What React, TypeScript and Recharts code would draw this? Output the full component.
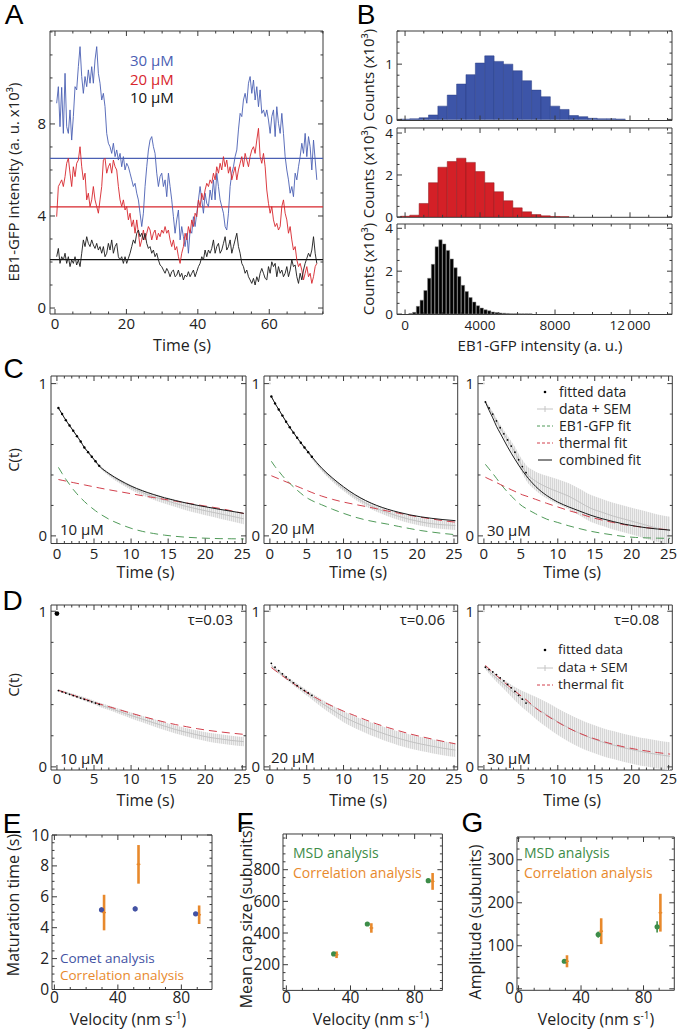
import React from 'react';
import { ComposedChart, Line, Bar, Area, Scatter, XAxis, YAxis, ReferenceLine, ReferenceArea, ErrorBar } from 'recharts';

const FONT = '"Open Sans", "DejaVu Sans", sans-serif';
const LETTER_FONT = '"Liberation Sans", Arial, sans-serif';
const AXIS = '#3a3a3a';
const TXT = '#222';

// ---------- Panel A: intensity traces ----------
const A_T_START = 0.47;
const A_DT = 0.467;
const A_BLUE_30 = [
  8.90, 9.62, 7.88, 9.59, 7.59, 10.20, 7.88, 7.59, 8.61, 7.30,
  8.32, 9.62, 9.48, 10.49, 11.36, 10.06, 9.33, 10.06, 9.62, 10.35,
  9.77, 10.49, 9.77, 10.78, 11.36, 10.20, 9.77, 9.04, 9.33, 8.75,
  7.59, 7.16, 7.01, 6.72, 7.16, 6.58, 6.87, 6.43, 6.72, 6.14,
  6.58, 6.00, 6.29, 6.14, 5.86, 5.57, 5.28, 5.42, 4.99, 4.70,
  4.12, 3.54, 4.12, 5.28, 6.14, 6.87, 7.30, 7.45, 7.01, 6.72,
  5.86, 5.28, 5.71, 5.86, 5.28, 5.57, 4.84, 5.86, 5.28, 4.70,
  3.97, 3.25, 3.83, 4.26, 2.96, 3.54, 3.10, 2.67, 3.25, 2.38,
  3.39, 3.25, 3.97, 3.54, 4.12, 4.70, 5.28, 4.70, 4.12, 4.99,
  4.55, 4.41, 5.13, 4.70, 5.57, 4.70, 5.86, 5.28, 4.70, 4.41,
  4.12, 3.54, 3.39, 4.12, 5.28, 5.86, 6.14, 6.58, 6.87, 7.74,
  8.46, 8.32, 9.04, 9.33, 8.90, 9.77, 10.06, 9.33, 9.91, 9.04,
  9.62, 8.75, 9.48, 8.46, 8.61, 8.32, 8.61, 8.17, 7.59, 8.32,
  8.61, 7.45, 8.75, 8.03, 7.59, 8.46, 7.59, 6.58, 6.00, 5.57,
  4.99, 5.28, 4.84, 5.86, 5.57, 6.14, 6.58, 7.16, 6.72, 7.59,
  6.58, 7.45, 7.01, 6.00, 7.30, 6.43, 5.57,
];
const A_RED_20 = [
  3.97, 5.28, 5.42, 5.57, 5.28, 5.71, 6.29, 6.51, 5.86, 5.28,
  6.14, 5.71, 6.29, 6.43, 7.01, 6.14, 5.57, 5.86, 4.70, 4.99,
  4.41, 4.70, 5.28, 4.70, 4.41, 4.12, 4.70, 5.28, 6.43, 6.51,
  5.86, 6.14, 6.29, 5.86, 6.43, 6.14, 6.00, 5.28, 4.70, 4.41,
  4.70, 4.26, 4.41, 3.83, 4.12, 3.54, 3.83, 3.25, 3.83, 3.25,
  2.67, 2.96, 3.39, 2.96, 3.25, 3.54, 3.39, 2.96, 3.25, 3.39,
  2.96, 3.25, 3.10, 3.39, 3.25, 3.54, 3.25, 3.39, 2.96, 2.67,
  2.96, 2.52, 2.67, 2.23, 1.94, 2.38, 2.67, 3.25, 2.96, 3.54,
  3.25, 3.83, 3.54, 4.12, 3.97, 4.70, 4.41, 4.99, 4.70, 5.13,
  5.42, 5.28, 5.57, 5.42, 5.86, 5.57, 6.14, 5.86, 6.29, 6.00,
  6.58, 6.14, 6.43, 5.86, 6.14, 5.57, 5.86, 6.14, 5.57, 6.00,
  6.29, 6.58, 6.14, 6.72, 6.43, 6.14, 6.58, 6.87, 7.01, 6.72,
  7.30, 7.81, 6.58, 6.29, 6.72, 6.14, 5.13, 4.55, 4.12, 4.41,
  3.83, 3.54, 3.68, 3.39, 3.54, 4.41, 4.70, 4.12, 3.83, 3.25,
  3.54, 2.96, 2.52, 2.67, 2.09, 1.80, 1.94, 1.65, 1.22, 1.51,
  1.80, 1.36, 1.51, 1.07, 1.36, 1.80, 1.94,
];
const A_BLACK_10 = [
  2.23, 2.59, 1.94, 2.23, 2.09, 2.38, 1.94, 2.23, 1.80, 2.09,
  1.94, 2.23, 1.87, 2.09, 1.80, 2.38, 2.96, 2.67, 3.10, 2.81,
  2.67, 2.96, 2.74, 2.59, 2.81, 2.52, 2.67, 2.38, 2.67, 2.23,
  2.38, 2.81, 2.52, 2.96, 2.38, 2.67, 2.81, 2.23, 2.09, 2.23,
  1.94, 2.23, 1.94, 2.16, 2.38, 2.67, 2.96, 2.81, 3.25, 3.39,
  3.10, 3.25, 2.96, 3.25, 2.81, 2.59, 2.67, 2.38, 2.52, 2.23,
  2.38, 2.09, 1.87, 1.80, 1.65, 1.51, 1.72, 1.58, 1.36, 1.58,
  1.65, 1.36, 1.43, 1.65, 1.36, 1.51, 1.22, 1.43, 1.36, 1.58,
  1.36, 1.51, 1.65, 1.36, 1.58, 1.80, 1.94, 2.23, 2.09, 2.52,
  2.23, 2.52, 2.38, 2.59, 2.96, 2.38, 2.67, 2.81, 2.38, 2.52,
  2.81, 3.10, 2.52, 2.67, 2.96, 2.38, 2.67, 2.96, 3.25, 2.67,
  2.38, 1.94, 1.80, 1.51, 1.65, 1.36, 1.22, 1.07, 1.29, 1.00,
  1.36, 1.14, 1.51, 1.72, 1.51, 1.29, 1.22, 1.80, 1.51, 2.01,
  1.80, 1.94, 1.36, 1.80, 1.51, 1.65, 1.36, 1.51, 1.80, 1.36,
  1.65, 2.09, 1.80, 1.87, 1.36, 1.07, 1.51, 1.22, 1.65, 1.94,
  2.16, 2.38, 2.23, 2.52, 3.10, 2.38, 1.94,
];
const A_MEANS = [6.5, 4.4, 2.1]; // 30, 20, 10 µM

// ---------- Panel B: histograms ----------
const B_BINS_500 = [0, 500, 1000, 1500, 2000, 2500, 3000, 3500, 4000, 4500, 5000, 5500, 6000, 6500, 7000, 7500, 8000, 8500, 9000, 9500, 10000, 10500, 11000, 11500];
const B_BLUE_30 = [0.003, 0.01, 0.03, 0.08, 0.24, 0.44, 0.64, 0.81, 1.02, 1.15, 1.05, 1.0, 0.88, 0.70, 0.53, 0.41, 0.24, 0.18, 0.07, 0.05, 0.02, 0.01, 0.01, 0.005];
const B_RED_20 = [0.03, 0.08, 0.64, 1.63, 2.37, 2.64, 2.8, 2.6, 2.16, 1.63, 1.2, 0.77, 0.43, 0.24, 0.11, 0.05, 0.02, 0.01];
const B_BINS_200 = [300, 500, 700, 900, 1100, 1300, 1500, 1700, 1900, 2100, 2300, 2500, 2700, 2900, 3100, 3300, 3500, 3700, 3900, 4100, 4300, 4500, 4700, 4900, 5100, 5300, 5500, 5700, 5900, 6100, 6300, 6500, 6700];
const B_BLACK_10 = [0.03, 0.08, 0.36, 0.65, 1.1, 1.67, 2.32, 3.14, 3.46, 3.27, 2.97, 2.57, 2.16, 1.75, 1.34, 1.05, 0.77, 0.56, 0.39, 0.28, 0.2, 0.15, 0.1, 0.07, 0.05, 0.04, 0.03, 0.02, 0.02, 0.01, 0.01, 0.01, 0.01];

// ---------- Panels C, D: correlation functions ----------
const CD_T = [0.2, 0.7, 1.2, 1.7, 2.2, 2.7, 3.2, 3.7, 4.2, 4.7, 5.2, 5.7, 7, 8.5, 10, 11.5, 13, 14.5, 16, 17.5, 19, 20.5, 22, 23.5, 25.2];

const C10_COMB = [0.84, 0.80, 0.76, 0.725, 0.69, 0.655, 0.62, 0.58, 0.55, 0.52, 0.49, 0.46, 0.41, 0.365, 0.327, 0.297, 0.272, 0.25, 0.232, 0.215, 0.2, 0.187, 0.174, 0.162, 0.148];
const C10_THERM = [0.37, 0.365, 0.36, 0.355, 0.35, 0.345, 0.34, 0.335, 0.33, 0.325, 0.32, 0.315, 0.303, 0.29, 0.277, 0.264, 0.252, 0.24, 0.228, 0.216, 0.204, 0.192, 0.18, 0.165, 0.147];
const C10_EB1 = [0.45, 0.41, 0.372, 0.338, 0.305, 0.276, 0.25, 0.226, 0.204, 0.184, 0.165, 0.148, 0.11, 0.077, 0.05, 0.03, 0.016, 0.005, -0.003, -0.009, -0.013, -0.016, -0.018, -0.019, -0.02];
const C10_MEAN = [0.84, 0.80, 0.76, 0.725, 0.69, 0.655, 0.62, 0.58, 0.55, 0.52, 0.49, 0.46, 0.405, 0.358, 0.318, 0.285, 0.258, 0.235, 0.213, 0.193, 0.176, 0.16, 0.145, 0.13, 0.112];
const C10_SEM = [0.004, 0.004, 0.005, 0.005, 0.006, 0.006, 0.007, 0.007, 0.008, 0.008, 0.009, 0.01, 0.012, 0.014, 0.016, 0.018, 0.02, 0.022, 0.024, 0.026, 0.028, 0.03, 0.032, 0.034, 0.035];
const C10_FIT = [0.84, 0.80, 0.76, 0.725, 0.69, 0.655, 0.62, 0.58, 0.55, 0.52, 0.49, 0.46];

const C20_COMB = [0.915, 0.87, 0.83, 0.79, 0.75, 0.713, 0.678, 0.644, 0.612, 0.58, 0.55, 0.52, 0.447, 0.38, 0.322, 0.272, 0.232, 0.2, 0.175, 0.155, 0.138, 0.125, 0.115, 0.107, 0.1];
const C20_THERM = [0.395, 0.385, 0.375, 0.365, 0.355, 0.345, 0.335, 0.325, 0.315, 0.305, 0.295, 0.285, 0.262, 0.24, 0.222, 0.207, 0.193, 0.178, 0.163, 0.149, 0.135, 0.122, 0.111, 0.1, 0.09];
const C20_EB1 = [0.49, 0.455, 0.425, 0.395, 0.368, 0.345, 0.322, 0.3, 0.28, 0.26, 0.245, 0.232, 0.205, 0.175, 0.148, 0.124, 0.105, 0.09, 0.077, 0.062, 0.048, 0.035, 0.025, 0.016, 0.008];
const C20_MEAN = [0.915, 0.87, 0.83, 0.79, 0.75, 0.713, 0.678, 0.644, 0.612, 0.58, 0.55, 0.515, 0.44, 0.37, 0.31, 0.258, 0.215, 0.18, 0.152, 0.128, 0.108, 0.092, 0.08, 0.073, 0.068];
const C20_SEM = [0.004, 0.004, 0.005, 0.005, 0.006, 0.006, 0.007, 0.007, 0.008, 0.008, 0.009, 0.01, 0.012, 0.014, 0.016, 0.018, 0.02, 0.022, 0.023, 0.024, 0.025, 0.026, 0.027, 0.028, 0.03];
const C20_FIT = [0.915, 0.87, 0.83, 0.79, 0.75, 0.713, 0.678, 0.644, 0.612, 0.58, 0.55, 0.52];

const C30_COMB = [0.88, 0.825, 0.775, 0.72, 0.675, 0.63, 0.585, 0.543, 0.503, 0.465, 0.43, 0.397, 0.325, 0.265, 0.222, 0.19, 0.162, 0.135, 0.113, 0.094, 0.077, 0.064, 0.053, 0.045, 0.038];
const C30_THERM = [0.385, 0.373, 0.362, 0.35, 0.338, 0.326, 0.315, 0.303, 0.292, 0.281, 0.27, 0.262, 0.24, 0.214, 0.19, 0.166, 0.145, 0.122, 0.104, 0.088, 0.074, 0.063, 0.054, 0.046, 0.04];
const C30_EB1 = [0.47, 0.44, 0.41, 0.378, 0.345, 0.315, 0.288, 0.262, 0.238, 0.215, 0.195, 0.18, 0.145, 0.11, 0.088, 0.066, 0.047, 0.03, 0.017, 0.006, -0.004, -0.01, -0.013, -0.015, -0.016];
const C30_MEAN = [0.88, 0.84, 0.8, 0.755, 0.71, 0.67, 0.63, 0.59, 0.55, 0.5, 0.455, 0.415, 0.36, 0.32, 0.29, 0.26, 0.22, 0.18, 0.155, 0.13, 0.11, 0.09, 0.07, 0.05, 0.035];
const C30_SEM = [0.01, 0.012, 0.015, 0.018, 0.021, 0.024, 0.028, 0.032, 0.036, 0.04, 0.045, 0.05, 0.062, 0.075, 0.082, 0.085, 0.088, 0.088, 0.088, 0.088, 0.088, 0.088, 0.09, 0.09, 0.09];
const C30_FIT = [0.88, 0.84, 0.8, 0.755, 0.71, 0.67, 0.63, 0.59, 0.55, 0.5, 0.455, 0.415];

const D10_THERM = [0.492, 0.484, 0.476, 0.468, 0.46, 0.452, 0.444, 0.436, 0.428, 0.42, 0.412, 0.405, 0.387, 0.366, 0.345, 0.325, 0.306, 0.288, 0.272, 0.258, 0.245, 0.234, 0.225, 0.217, 0.209];
const D10_MEAN = [0.492, 0.484, 0.476, 0.468, 0.46, 0.452, 0.444, 0.436, 0.428, 0.42, 0.41, 0.4, 0.38, 0.355, 0.33, 0.307, 0.284, 0.262, 0.24, 0.222, 0.205, 0.19, 0.18, 0.17, 0.162];
const D10_SEM = [0.008, 0.008, 0.009, 0.009, 0.01, 0.01, 0.011, 0.011, 0.012, 0.012, 0.013, 0.013, 0.015, 0.017, 0.019, 0.021, 0.023, 0.025, 0.026, 0.027, 0.028, 0.029, 0.03, 0.03, 0.03];
const D10_FIT = [0.49, 0.482, 0.474, 0.466, 0.458, 0.45, 0.442, 0.434, 0.426, 0.418, 0.41, 0.402];

const D20_THERM = [0.638, 0.62, 0.602, 0.585, 0.568, 0.551, 0.535, 0.519, 0.503, 0.488, 0.473, 0.459, 0.424, 0.39, 0.358, 0.33, 0.302, 0.276, 0.253, 0.232, 0.212, 0.195, 0.179, 0.164, 0.148];
const D20_MEAN = [0.65, 0.63, 0.61, 0.592, 0.573, 0.555, 0.537, 0.52, 0.503, 0.486, 0.47, 0.453, 0.41, 0.365, 0.322, 0.288, 0.258, 0.23, 0.205, 0.183, 0.163, 0.147, 0.133, 0.12, 0.108];
const D20_SEM = [0.01, 0.01, 0.011, 0.012, 0.012, 0.013, 0.014, 0.015, 0.016, 0.017, 0.018, 0.02, 0.025, 0.03, 0.035, 0.038, 0.04, 0.042, 0.044, 0.045, 0.045, 0.045, 0.045, 0.045, 0.045];
const D20_FIT = [0.665, 0.64, 0.618, 0.598, 0.578, 0.558, 0.54, 0.522, 0.505, 0.49, 0.475, 0.46];

const D30_THERM = [0.652, 0.63, 0.608, 0.587, 0.566, 0.546, 0.526, 0.506, 0.487, 0.468, 0.45, 0.432, 0.378, 0.33, 0.287, 0.248, 0.215, 0.188, 0.165, 0.145, 0.128, 0.114, 0.102, 0.092, 0.082];
const D30_MEAN = [0.64, 0.615, 0.592, 0.57, 0.55, 0.53, 0.51, 0.49, 0.47, 0.452, 0.435, 0.42, 0.38, 0.335, 0.29, 0.25, 0.215, 0.185, 0.16, 0.14, 0.122, 0.106, 0.092, 0.08, 0.068];
const D30_SEM = [0.015, 0.017, 0.02, 0.023, 0.026, 0.03, 0.034, 0.038, 0.043, 0.048, 0.053, 0.058, 0.07, 0.08, 0.085, 0.088, 0.09, 0.09, 0.09, 0.09, 0.09, 0.09, 0.09, 0.09, 0.09];
const D30_FIT = [0.64, 0.625, 0.61, 0.593, 0.572, 0.553, 0.53, 0.508, 0.485, 0.46, 0.435, 0.41];

const C_ZERO_LAG = [1.0, 1.0, 1.0];
const D_ZERO_LAG = [0.985, 1.0, 1.0];
const D_TAU = ['τ=0.03', 'τ=0.06', 'τ=0.08'];
const CONC = ['10 µM', '20 µM', '30 µM'];

// ---------- Panels E, F, G ----------
const X_ERR = [1.2, 1.2, 1.2];
const E_COMET_V = [29.7, 50.9, 89];
const E_COMET_T = [5.16, 5.22, 4.9];
const E_COMET_ERR = [0.15, 0.15, 0.12];
const E_CORR_V = [31.3, 53, 91.2];
const E_CORR_T = [4.98, 8.1, 4.84];
const E_CORR_ERR = [1.15, 1.25, 0.6];

const F_MSD_V = [29.5, 50.5, 88.5];
const F_MSD_N = [268, 457, 731];
const F_MSD_ERR = [8, 10, 12];
const F_CORR_V = [31.3, 53, 91.2];
const F_CORR_N = [263, 432, 726];
const F_CORR_ERR = [21, 30, 53];

const G_MSD_V = [29.3, 51, 88.7];
const G_MSD_A = [64, 126, 144];
const G_MSD_ERR = [3, 7, 13];
const G_CORR_V = [31, 52.9, 90.8];
const G_CORR_A = [64, 134, 177];
const G_CORR_ERR = [14, 30, 44];

// ---------- tick values ----------
const A_XT = [0, 20, 40, 60];
const A_YT = [0, 4, 8];
const B_XT = [0, 4000, 8000, 12000];
const B1_YT = [0, 1];
const B2_YT = [0, 2, 4];
const CD_XT = [0, 5, 10, 15, 20, 25];
const CD_YT = [0, 1];
const V_XT = [0, 40, 80];
const E_YT = [0, 2, 4, 6, 8, 10];
const F_YT = [200, 400, 600, 800];
const G_YT = [0, 100, 200, 300];

// ---------- colours ----------
const BLUE = '#4b60b3';
const RED = '#d7262d';
const HBLUE = '#3d55a8';
const HRED = '#d42027';
const GFIT = '#4f9a58';
const RFIT = '#d2404c';
const ORANGE = '#e8892c';
const GREEN = '#3d8c48';
const CBLUE = '#4352a3';

type Box = { x0: number; y0: number; x1: number; y1: number };

const PAD_T = 10;
const PAD_R = 10;

function range(a: number, b: number, s: number) {
  const out: number[] = [];
  for (let v = a; v <= b + 1e-9; v += s) out.push(Math.round(v * 1000) / 1000);
  return out;
}
function withMinor(major: number[], minor: number[]) {
  const all = [...major, ...minor].map((v) => Math.round(v * 1000) / 1000);
  return Array.from(new Set(all)).sort((p, q) => p - q);
}

function frame(b: Box, yw = 40, xh = 30) {
  return {
    style: { position: 'absolute' as const, left: b.x0 - yw, top: b.y0 - PAD_T - 1 },
    width: b.x1 - b.x0 + yw + PAD_R + 1,
    height: b.y1 - b.y0 + PAD_T + 1 + xh,
    margin: { top: PAD_T, right: PAD_R, bottom: 0, left: 0 },
  };
}

type Orient = 'bottom' | 'left' | 'top' | 'right';

function mkTick(orient: Orient, majors: number[], m: number, showLabel: boolean, fs: number, fmt?: (v: number) => string) {
  return (p: any) => {
    const v = p.payload.value;
    const isMajor = majors.some((mm) => Math.abs(mm - v) < 1e-6);
    const len = isMajor ? 5 : 2.5;
    let ln: React.ReactNode = null;
    let label: React.ReactNode = null;
    const lp = { stroke: AXIS, strokeWidth: 1 };
    if (orient === 'bottom') {
      const ay = p.y - m;
      ln = <line x1={p.x} y1={ay} x2={p.x} y2={ay - len} {...lp} />;
      if (showLabel && isMajor) label = <text x={p.x} y={p.y} dy="0.71em" textAnchor="middle" fontSize={fs} fill={TXT} fontFamily={FONT}>{fmt ? fmt(v) : String(v)}</text>;
    } else if (orient === 'left') {
      const ax = p.x + m;
      ln = <line x1={ax} y1={p.y} x2={ax + len} y2={p.y} {...lp} />;
      if (showLabel && isMajor) label = <text x={p.x} y={p.y} dy="0.355em" textAnchor="end" fontSize={fs} fill={TXT} fontFamily={FONT}>{fmt ? fmt(v) : String(v)}</text>;
    } else if (orient === 'top') {
      const ay = p.y + m;
      ln = <line x1={p.x} y1={ay} x2={p.x} y2={ay + len} {...lp} />;
    } else {
      const ax = p.x - m;
      ln = <line x1={ax} y1={p.y} x2={ax - len} y2={p.y} {...lp} />;
    }
    return <g>{ln}{label}</g>;
  };
}

type AxOpt = {
  xKey: string; xd: [number, number]; yd: [number, number]; xt: number[]; yt: number[]; xmin: number[]; ymin: number[];
  xLab?: boolean; fs?: number; xm?: number; ym?: number; xf?: (v: number) => string; yw?: number; xh?: number;
};

function axes(o: AxOpt) {
  const fs = o.fs ?? 15;
  const xa = withMinor(o.xt, o.xmin);
  const ya = withMinor(o.yt, o.ymin);
  const xm = o.xm ?? 4;
  const ym = o.ym ?? 4;
  return [
    <XAxis key="xb" dataKey={o.xKey} type="number" domain={o.xd} ticks={xa} allowDataOverflow interval={0}
      tickSize={0} tickMargin={xm} tickLine={false} axisLine={false}
      tick={mkTick('bottom', o.xt, xm, o.xLab !== false, fs, o.xf)} height={o.xh ?? 30} />,
    <XAxis key="xt" xAxisId="top" dataKey={o.xKey} orientation="top" type="number" domain={o.xd} ticks={xa} allowDataOverflow
      interval={0} tickSize={0} tickMargin={0} tickLine={false} axisLine={false}
      tick={mkTick('top', o.xt, 0, false, fs)} height={1} />,
    <YAxis key="yl" type="number" domain={o.yd} ticks={ya} allowDataOverflow interval={0} tickSize={0}
      tickMargin={ym} tickLine={false} axisLine={false} tick={mkTick('left', o.yt, ym, true, fs)} width={o.yw ?? 40} />,
    <YAxis key="yr" yAxisId="right" orientation="right" type="number" domain={o.yd} ticks={ya} allowDataOverflow
      interval={0} tickSize={0} tickMargin={0} tickLine={false} axisLine={false} tick={mkTick('right', o.yt, 0, false, fs)} width={1} />,
    <ReferenceArea key="frame" x1={o.xd[0]} x2={o.xd[1]} y1={o.yd[0]} y2={o.yd[1]} fill="none" fillOpacity={0}
      stroke={AXIS} strokeWidth={1} ifOverflow="visible" />,
  ];
}

function T(props: { x: number; y: number; children: React.ReactNode; size?: number; color?: string; anchor?: 'start' | 'middle' | 'end'; rot?: number; family?: string }) {
  const { x, y, children, size = 15, color = TXT, anchor = 'middle', rot = 0, family = FONT } = props;
  const tx = anchor === 'middle' ? '-50%' : anchor === 'end' ? '-100%' : '0';
  return (
    <div style={{
      position: 'absolute', left: x, top: y, transform: `translate(${tx}, -50%) rotate(${rot}deg)`,
      fontSize: size, color, fontFamily: family, lineHeight: 1, whiteSpace: 'nowrap',
    }}>{children}</div>
  );
}

function Mark({ x, y, kind }: { x: number; y: number; kind: string }) {
  return (
    <svg style={{ position: 'absolute', left: x, top: y - 5 }} width={16} height={10}>
      {kind === 'dot' && <circle cx={8} cy={5} r={1.3} fill="#000" />}
      {kind === 'sem' && (
        <g>
          <line x1={0} y1={5} x2={16} y2={5} stroke="#c4c4c4" strokeWidth={1} />
          <line x1={8} y1={2} x2={8} y2={8} stroke="#c4c4c4" strokeWidth={1} />
        </g>
      )}
      {kind === 'green' && <line x1={0} y1={5} x2={16} y2={5} stroke={GFIT} strokeWidth={1} strokeDasharray="3 2" />}
      {kind === 'red' && <line x1={0} y1={5} x2={16} y2={5} stroke={RFIT} strokeWidth={1} strokeDasharray="3 2" />}
      {kind === 'black' && <line x1={1} y1={5} x2={15} y2={5} stroke="#111" strokeWidth={1} />}
    </svg>
  );
}

// ---------- builders ----------
const aData = A_BLUE_30.map((b, i) => ({
  t: Math.round((A_T_START + i * A_DT) * 100) / 100, b, r: A_RED_20[i], k: A_BLACK_10[i],
}));

function histRows(bins: number[], vals: number[]) {
  return bins.map((x, i) => ({ x, c: vals[i] }));
}

function corrRows(mean: number[], sem: number[], therm: number[], eb1: number[] | null, comb: number[] | null, fit: number[]) {
  return CD_T.map((t, i) => ({
    t,
    mean: mean[i],
    band: [mean[i] - sem[i], mean[i] + sem[i]],
    th: therm[i],
    eb: eb1 ? eb1[i] : undefined,
    comb: comb ? comb[i] : undefined,
    fit: i < fit.length ? fit[i] : undefined,
  }));
}

function pts(v: number[], y: number[], e: number[]) {
  return v.map((vv, i) => ({ v: vv, y: y[i], e: e[i], ex: X_ERR[i] }));
}

const hiddenLine = (key: string) => (
  <Line key="hidden" xAxisId="top" yAxisId="right" dataKey={key} stroke="none" dot={false} activeDot={false}
    legendType="none" isAnimationActive={false} />
);

// ---------- chart pieces ----------
function Hist({ box, rows, yd, yt, ymin, fill, stroke, barSize, xLab }: { box: Box; rows: { x: number; c: number }[]; yd: [number, number]; yt: number[]; ymin: number[]; fill: string; stroke: string; barSize: number; xLab: boolean }) {
  const f = frame(box, 40, 30);
  return (
    <div style={f.style}>
      <ComposedChart width={f.width} height={f.height} margin={f.margin} data={rows}>
        {axes({ xKey: 'x', xd: [-430, 14240], yd, yt, xt: B_XT, xmin: range(1000, 14000, 1000), ymin, xLab, fs: 13.5, xm: 6, ym: 4,
          xf: (v: number) => (v === 12000 ? '12\u2009000' : String(v)) })}
        <Bar dataKey="c" fill={fill} stroke={stroke} strokeWidth={0.5} barSize={barSize} isAnimationActive={false} />
        {hiddenLine('c')}
      </ComposedChart>
    </div>
  );
}

function Corr({ box, id, rows, yd, zero, zeroColor, zeroR, fitR, xm }: { box: Box; id: string; rows: any[]; yd: [number, number]; zero: number; zeroColor: string; zeroR: number; fitR: number; xm: number }) {
  const f = frame(box, 40, 30);
  return (
    <div style={f.style}>
      <ComposedChart width={f.width} height={f.height} margin={f.margin} data={rows}>
        <defs>
          <pattern id={`sem-${id}`} width={2} height={4} patternUnits="userSpaceOnUse">
            <rect x={0} y={0} width={1} height={4} fill="#d6d6d6" />
            <rect x={1} y={0} width={1} height={4} fill="#eeeeee" />
          </pattern>
        </defs>
        {axes({ xKey: 't', xd: [-0.8, 25.5], yd, xt: CD_XT, yt: CD_YT, xmin: range(1, 25, 1), ymin: range(0, 1, 0.2), xm, ym: 4 })}
        <Area type="monotone" dataKey="band" stroke="none" fill={`url(#sem-${id})`} fillOpacity={1} isAnimationActive={false} />
        <Line type="monotone" dataKey="mean" stroke="#c2c2c2" strokeWidth={1} dot={false} isAnimationActive={false} />
        <Line type="monotone" dataKey="eb" stroke={GFIT} strokeWidth={1} strokeDasharray="8 5" dot={false} isAnimationActive={false} />
        <Line type="monotone" dataKey="th" stroke={RFIT} strokeWidth={1} strokeDasharray="8 5" dot={false} isAnimationActive={false} />
        <Line type="monotone" dataKey="comb" stroke="#1a1a1a" strokeWidth={1} dot={false} isAnimationActive={false} />
        <Line type="monotone" dataKey="fit" stroke="none" dot={{ r: fitR, fill: '#000', stroke: 'none' }} isAnimationActive={false} />
        <Scatter data={[{ t: 0, z: zero }]} dataKey="z" isAnimationActive={false}
          shape={(p: any) => <circle cx={p.cx} cy={p.cy} r={zeroR} fill={zeroColor} />} />
        {hiddenLine('mean')}
      </ComposedChart>
    </div>
  );
}

function Vel({ box, xd, yd, yt, ymin, a, aColor, b }: { box: Box; xd: [number, number]; yd: [number, number]; yt: number[]; ymin: number[]; a: any[]; aColor: string; b: any[] }) {
  const f = frame(box, 48, 30);
  return (
    <div style={f.style}>
      <ComposedChart width={f.width} height={f.height} margin={f.margin}>
        {axes({ xKey: 'v', xd, yd, xt: V_XT, yt, xmin: range(10, 90, 10), ymin, fs: 15.5, xm: 2, ym: 3, yw: 48 })}
        <Scatter data={a} dataKey="y" isAnimationActive={false}
          shape={(p: any) => <circle cx={p.cx} cy={p.cy} r={2.6} fill={aColor} />}>
          <ErrorBar dataKey="e" direction="y" width={0} strokeWidth={1.6} stroke={aColor} />
          <ErrorBar dataKey="ex" direction="x" width={0} strokeWidth={1.2} stroke={aColor} />
        </Scatter>
        <Scatter data={b} dataKey="y" isAnimationActive={false}
          shape={(p: any) => <circle cx={p.cx} cy={p.cy} r={1.3} fill={ORANGE} />}>
          <ErrorBar dataKey="e" direction="y" width={0} strokeWidth={2.6} stroke={ORANGE} />
          <ErrorBar dataKey="ex" direction="x" width={0} strokeWidth={1.2} stroke={ORANGE} />
        </Scatter>
        <Scatter xAxisId="top" yAxisId="right" data={a} dataKey="y" isAnimationActive={false} legendType="none"
          shape={() => <g />} />
      </ComposedChart>
    </div>
  );
}

// ---------- boxes ----------
const BOX_A: Box = { x0: 50, y0: 31, x1: 323, y1: 314 };
const BOX_B1: Box = { x0: 397, y0: 30.5, x1: 672, y1: 120 };
const BOX_B2: Box = { x0: 397, y0: 128, x1: 672, y1: 217.3 };
const BOX_B3: Box = { x0: 397, y0: 223.5, x1: 672, y1: 314 };
const C_X = [[51, 246], [264.3, 458], [478, 672.3]];
const BOX_E: Box = { x0: 52.3, y0: 835, x1: 212.3, y1: 989.5 };
const BOX_F: Box = { x0: 283.3, y0: 834.3, x1: 442.7, y1: 990.7 };
const BOX_G: Box = { x0: 516.7, y0: 836.7, x1: 674, y1: 990 };

const SUP = { fontSize: 10, lineHeight: 0 };

export default function App() {
  const cRows = [
    corrRows(C10_MEAN, C10_SEM, C10_THERM, C10_EB1, C10_COMB, C10_FIT),
    corrRows(C20_MEAN, C20_SEM, C20_THERM, C20_EB1, C20_COMB, C20_FIT),
    corrRows(C30_MEAN, C30_SEM, C30_THERM, C30_EB1, C30_COMB, C30_FIT),
  ];
  const dRows = [
    corrRows(D10_MEAN, D10_SEM, D10_THERM, null, null, D10_FIT),
    corrRows(D20_MEAN, D20_SEM, D20_THERM, null, null, D20_FIT),
    corrRows(D30_MEAN, D30_SEM, D30_THERM, null, null, D30_FIT),
  ];
  const fa = frame(BOX_A, 40, 30);

  return (
    <div style={{ position: 'absolute', left: 0, top: 0, width: 677, height: 1030, background: '#fff', overflow: 'hidden', fontFamily: FONT }}>
      {/* Panel A */}
      <div style={fa.style}>
        <ComposedChart width={fa.width} height={fa.height} margin={fa.margin} data={aData}>
          {axes({ xKey: 't', xd: [-1.4, 75.05], yd: [-0.26, 12.04], xt: A_XT, yt: A_YT, xmin: range(5, 75, 5), ymin: range(0, 12, 1), xm: 4, ym: 4 })}
          <ReferenceLine y={A_MEANS[0]} stroke={BLUE} strokeWidth={1.2} />
          <ReferenceLine y={A_MEANS[1]} stroke={RED} strokeWidth={1.2} />
          <ReferenceLine y={A_MEANS[2]} stroke="#111" strokeWidth={1.2} />
          <Line type="linear" dataKey="b" stroke={BLUE} strokeWidth={0.9} dot={false} isAnimationActive={false} />
          <Line type="linear" dataKey="r" stroke={RED} strokeWidth={0.9} dot={false} isAnimationActive={false} />
          <Line type="linear" dataKey="k" stroke="#1a1a1a" strokeWidth={0.9} dot={false} isAnimationActive={false} />
          {hiddenLine('k')}
        </ComposedChart>
      </div>
      <T x={14} y={15} size={28} family={LETTER_FONT} color="#000">A</T>
      <T x={130} y={60} size={15} color={BLUE} anchor="start">30 µM</T>
      <T x={130} y={78.5} size={15} color={RED} anchor="start">20 µM</T>
      <T x={130} y={97} size={15} color="#111" anchor="start">10 µM</T>
      <T x={13} y={182} size={15} rot={-90}>EB1-GFP intensity (a. u. x10³)</T>
      <T x={182} y={345} size={16}>Time (s)</T>

      {/* Panel B */}
      <Hist box={BOX_B1} rows={histRows(B_BINS_500, B_BLUE_30)} yd={[-0.02, 1.6]} yt={B1_YT} ymin={range(0, 1.6, 0.2)} fill={HBLUE} stroke="#2b3f85" barSize={9.37} xLab={false} />
      <Hist box={BOX_B2} rows={histRows(B_BINS_500, B_RED_20)} yd={[-0.02, 4.24]} yt={B2_YT} ymin={range(0, 4, 0.5)} fill={HRED} stroke="#8c1a1e" barSize={9.37} xLab={false} />
      <Hist box={BOX_B3} rows={histRows(B_BINS_200, B_BLACK_10)} yd={[-0.02, 4.2]} yt={B2_YT} ymin={range(0, 4, 0.5)} fill="#000" stroke="#8a8a8a" barSize={3.75} xLab={true} />
      <T x={366} y={15} size={28} family={LETTER_FONT} color="#000">B</T>
      <T x={368} y={75} size={15} rot={-90}>Counts (x10³)</T>
      <T x={368} y={172} size={15} rot={-90}>Counts (x10³)</T>
      <T x={368} y={269} size={15} rot={-90}>Counts (x10³)</T>
      <T x={540} y={345} size={15}>EB1-GFP intensity (a. u.)</T>

      {/* Panel C */}
      {C_X.map(([x0, x1], i) => (
        <Corr key={`c${i}`} box={{ x0, y0: 375.5, x1, y1: 543 }} id={`c${i}`} rows={cRows[i]} yd={[-0.05, 1.05]}
          zero={C_ZERO_LAG[i]} zeroColor="#d0d0d0" zeroR={1} fitR={i === 2 ? 0.9 : 1.2} xm={5} />
      ))}
      <T x={13.5} y={368.5} size={28} family={LETTER_FONT} color="#000">C</T>
      <T x={13} y={460} size={15} rot={-90}>C(t)</T>
      {C_X.map(([x0, x1], i) => (
        <T key={`ct${i}`} x={(x0 + x1) / 2 - 3} y={572} size={16}>Time (s)</T>
      ))}
      <T x={60} y={529} size={15} anchor="start">{CONC[0]}</T>
      <T x={271} y={528} size={15} anchor="start">{CONC[1]}</T>
      <T x={487} y={530} size={15} anchor="start">{CONC[2]}</T>
      <Mark x={537} y={392} kind="dot" />
      <Mark x={537} y={409} kind="sem" />
      <Mark x={537} y={426} kind="green" />
      <Mark x={537} y={443} kind="red" />
      <Mark x={537} y={460} kind="black" />
      <T x={559} y={392} size={14} anchor="start">fitted data</T>
      <T x={559} y={409} size={14} anchor="start">data + SEM</T>
      <T x={559} y={426} size={14} anchor="start">EB1-GFP fit</T>
      <T x={559} y={443} size={14} anchor="start">thermal fit</T>
      <T x={559} y={460} size={14} anchor="start">combined fit</T>

      {/* Panel D */}
      {C_X.map(([x0, x1], i) => (
        <Corr key={`d${i}`} box={{ x0, y0: 605, x1, y1: 770 }} id={`d${i}`} rows={dRows[i]} yd={[-0.02, 1.04]}
          zero={D_ZERO_LAG[i]} zeroColor={i === 0 ? '#000' : '#d0d0d0'} zeroR={i === 0 ? 2.4 : 1} fitR={0.9} xm={3} />
      ))}
      <T x={12.5} y={601} size={28} family={LETTER_FONT} color="#000">D</T>
      <T x={13} y={685} size={15} rot={-90}>C(t)</T>
      {C_X.map(([x0, x1], i) => (
        <T key={`dt${i}`} x={(x0 + x1) / 2 - 3} y={800} size={16}>Time (s)</T>
      ))}
      {C_X.map(([, x1], i) => (
        <T key={`tau${i}`} x={x1 - 13} y={619} size={15} anchor="end">{D_TAU[i]}</T>
      ))}
      <T x={60} y={758} size={15} anchor="start">{CONC[0]}</T>
      <T x={271} y={757} size={15} anchor="start">{CONC[1]}</T>
      <T x={487} y={758} size={15} anchor="start">{CONC[2]}</T>
      <Mark x={537} y={650} kind="dot" />
      <Mark x={537} y={667.5} kind="sem" />
      <Mark x={537} y={685} kind="red" />
      <T x={558} y={650} size={13.5} anchor="start">fitted data</T>
      <T x={558} y={667.5} size={13.5} anchor="start">data + SEM</T>
      <T x={558} y={685} size={13.5} anchor="start">thermal fit</T>

      {/* Panel E */}
      <Vel box={BOX_E} xd={[-1.5, 99.3]} yd={[0, 10]} yt={E_YT} ymin={range(0, 10, 0.5)}
        a={pts(E_COMET_V, E_COMET_T, E_COMET_ERR)} aColor={CBLUE} b={pts(E_CORR_V, E_CORR_T, E_CORR_ERR)} />
      <T x={12} y={823.5} size={28} family={LETTER_FONT} color="#000">E</T>
      <T x={12.5} y={905} size={16} rot={-90}>Maturation time (s)</T>
      <T x={128} y={1019} size={16}>Velocity (nm s<sup style={SUP}>-1</sup>)</T>
      <T x={60} y={959} size={13.5} anchor="start" color={CBLUE}>Comet analysis</T>
      <T x={60} y={976} size={13.5} anchor="start" color={ORANGE}>Correlation analysis</T>

      {/* Panel F */}
      <Vel box={BOX_F} xd={[-2.1, 97.3]} yd={[37.7, 1025.5]} yt={F_YT} ymin={range(50, 1000, 50)}
        a={pts(F_MSD_V, F_MSD_N, F_MSD_ERR)} aColor={GREEN} b={pts(F_CORR_V, F_CORR_N, F_CORR_ERR)} />
      <T x={245} y={823} size={28} family={LETTER_FONT} color="#000">F</T>
      <T x={246} y={917} size={16} rot={-90}>Mean cap size (subunits)</T>
      <T x={371} y={1019} size={16}>Velocity (nm s<sup style={SUP}>-1</sup>)</T>
      <T x={293} y={853} size={14} anchor="start" color={GREEN}>MSD analysis</T>
      <T x={293} y={873} size={14} anchor="start" color={ORANGE}>Correlation analysis</T>

      {/* Panel G */}
      <Vel box={BOX_G} xd={[-1, 99.7]} yd={[-3.5, 353]} yt={G_YT} ymin={range(0, 350, 25)}
        a={pts(G_MSD_V, G_MSD_A, G_MSD_ERR)} aColor={GREEN} b={pts(G_CORR_V, G_CORR_A, G_CORR_ERR)} />
      <T x={472.5} y={823} size={28} family={LETTER_FONT} color="#000">G</T>
      <T x={475} y={922} size={16} rot={-90}>Amplitude (subunits)</T>
      <T x={596} y={1019} size={16}>Velocity (nm s<sup style={SUP}>-1</sup>)</T>
      <T x={524} y={853} size={14} anchor="start" color={GREEN}>MSD analysis</T>
      <T x={524} y={873} size={14} anchor="start" color={ORANGE}>Correlation analysis</T>
    </div>
  );
}
